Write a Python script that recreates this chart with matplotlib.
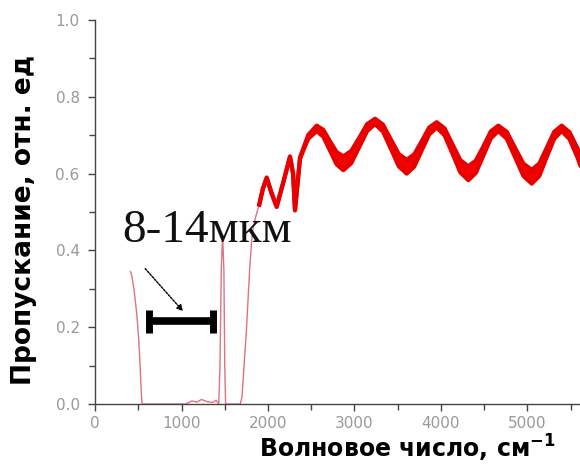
"""Спектр пропускания: перерисовка графика."""
import numpy as np
import matplotlib
matplotlib.use("Agg")
import matplotlib.pyplot as plt
from matplotlib.ticker import MultipleLocator

# ================================================
# ДАННЫЕ
# ================================================
# тонкая (слабая) часть кривой
wn_thin = [410, 425, 450, 482, 505, 520, 535, 545, 700, 900, 1050, 1120, 1180,
           1230, 1300, 1360, 1400, 1430, 1445, 1460, 1475, 1490, 1500, 1510,
           1600, 1680, 1700, 1750, 1790, 1820, 1860, 1900]
tr_thin = [0.345, 0.335, 0.30, 0.237, 0.17, 0.107, 0.03, 0.0, 0.0, 0.0, 0.0,
           0.008, 0.005, 0.012, 0.006, 0.004, 0.01, 0.0, 0.10, 0.35, 0.44, 0.35,
           0.10, 0.0, 0.0, 0.0, 0.02, 0.19, 0.36, 0.45, 0.49, 0.52]

# основная полоса с интерференцией
wn_band = [1900, 1940, 1985, 2040, 2100, 2180, 2254, 2290, 2312, 2340, 2370,
           2420, 2466, 2563, 2640, 2717, 2794, 2871, 2962, 3054, 3146, 3237,
           3328, 3420, 3512, 3603, 3690, 3776, 3863, 3950, 4041, 4133, 4224,
           4316, 4403, 4490, 4576, 4663, 4760, 4856, 4953, 5049, 5136, 5222,
           5309, 5395, 5486, 5578, 5610]
tr_band = [0.52, 0.56, 0.589, 0.55, 0.514, 0.58, 0.644, 0.60, 0.505, 0.57, 0.64,
           0.67, 0.696, 0.718, 0.705, 0.672, 0.640, 0.627, 0.643, 0.681, 0.720,
           0.736, 0.719, 0.677, 0.635, 0.618, 0.634, 0.672, 0.711, 0.727, 0.709,
           0.664, 0.619, 0.601, 0.618, 0.659, 0.701, 0.718, 0.700, 0.655, 0.610,
           0.592, 0.610, 0.655, 0.700, 0.718, 0.699, 0.654, 0.636]
# половина размаха мелких интерференционных полос
spread_band = [0.001, 0.001, 0.001, 0.001, 0.001, 0.001, 0.001, 0.001, 0.001,
               0.001, 0.002, 0.003, 0.005, 0.007, 0.009, 0.012, 0.016, 0.018,
               0.016, 0.012, 0.009, 0.007, 0.009, 0.012, 0.016, 0.018, 0.016,
               0.012, 0.009, 0.007, 0.009, 0.012, 0.016, 0.018, 0.016, 0.012,
               0.009, 0.007, 0.009, 0.012, 0.016, 0.018, 0.016, 0.012, 0.009,
               0.007, 0.009, 0.012, 0.014]

x_ticks = [0, 1000, 2000, 3000, 4000, 5000]
y_ticks = [0.0, 0.2, 0.4, 0.6, 0.8, 1.0]

# ================================================
# РИСУНОК
# ================================================
fig = plt.figure(figsize=(5.8, 4.66), dpi=100)
ax = fig.add_axes([0.1638, 0.133, 0.8362, 0.824])

wb = np.array(wn_band)
tb = np.array(tr_band)
sb = np.array(spread_band)

ax.plot(wn_thin, tr_thin, color="#d85a6c", lw=1.0, alpha=0.85)
ax.fill_between(wb, tb - sb, tb + sb, color="#f50000", lw=0)
ax.plot(wb, tb + sb, color="#e80000", lw=3.0, solid_joinstyle="round")
ax.plot(wb, tb - sb, color="#e80000", lw=3.0, solid_joinstyle="round")

# подпись диапазона 8-14 мкм
ax.text(312, 0.422, "8-14мкм", family="Liberation Serif", fontsize=34,
        va="baseline", ha="left", color="#111111")
ax.plot([597, 1387], [0.216, 0.216], color="black", lw=5.5, solid_capstyle="butt")
ax.vlines([620, 1365], 0.186, 0.246, color="black", lw=5)
ax.annotate("", xy=(1040, 0.236), xytext=(559, 0.358),
            arrowprops=dict(arrowstyle="-|>", color="black", lw=1.0,
                            linestyle=(0, (1.5, 1)), mutation_scale=9))

# оси
ax.set_xlim(0, 5607)
ax.set_ylim(0, 1.0)
ax.set_xticks(x_ticks)
ax.set_yticks(y_ticks)
ax.xaxis.set_minor_locator(MultipleLocator(500))
ax.yaxis.set_minor_locator(MultipleLocator(0.1))
ax.spines["top"].set_visible(False)
ax.spines["right"].set_visible(False)
for s in ("left", "bottom"):
    ax.spines[s].set_color("#444444")
    ax.spines[s].set_linewidth(1.0)
ax.tick_params(which="both", direction="out", color="#444444", width=1.0,
               labelsize=11, labelcolor="#999999")
ax.tick_params(which="major", length=5)
ax.tick_params(which="minor", length=4)
ax.tick_params(axis="y", pad=6)
ax.set_yticklabels([f"{v:.1f}" for v in y_ticks])
ax.set_xticklabels([str(v) for v in x_ticks])

ax.set_xlabel(r"Волновое число, см$^{\mathbf{-1}}$", fontsize=17,
              fontweight="bold", color="black")
ax.xaxis.set_label_coords(0.645, -0.075)
ax.set_ylabel("Пропускание, отн. ед", fontsize=19, fontweight="bold",
              color="black")
ax.yaxis.set_label_coords(-0.12, 0.48)

fig.savefig("out.png", dpi=100, facecolor="white")
